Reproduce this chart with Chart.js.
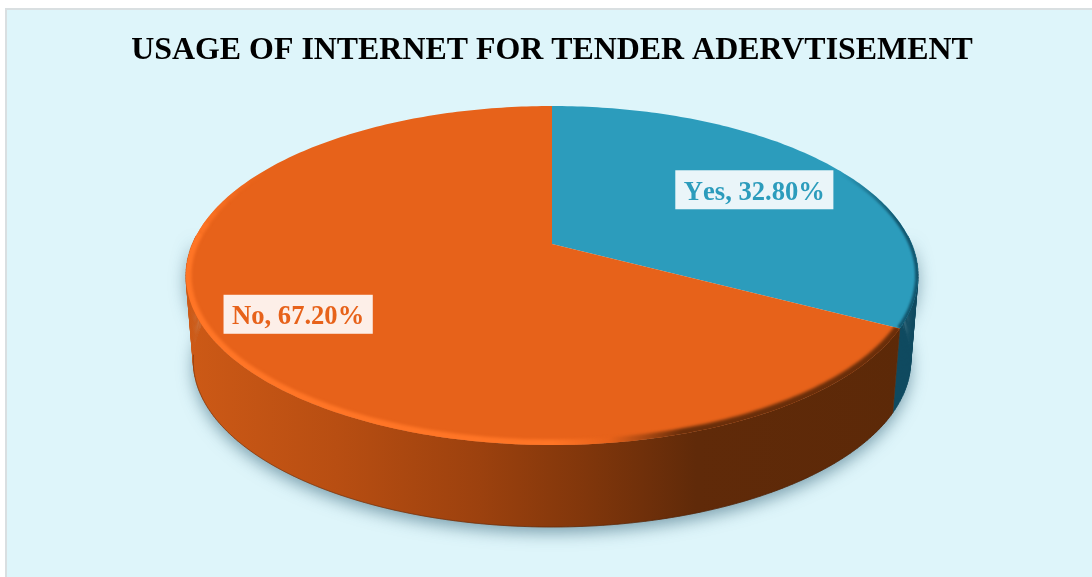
<!DOCTYPE html>
<html>
<head>
<meta charset="utf-8">
<title>Usage of internet for tender advertisement</title>
<script src="https://cdn.jsdelivr.net/npm/chart.js@4/dist/chart.umd.min.js"></script>
<style>
    body { margin: 0; background: #fff; }
    canvas { display: block; }
</style>
</head>
<body>
<canvas id="pie3d" width="1092" height="577"></canvas>
<script>
const chartTitle = "USAGE OF INTERNET FOR TENDER ADERVTISEMENT";
const categories = ["Yes", "No"];
const shares = [32.8, 67.2];

const topColors = ["#2c9cbc", "#e7621a"];

// how the flat pie is tipped over: stretch, perspective and wall depth
const tilt = { sx: 2.606, sy: 1.1855, k: 0.186, bottomScale: 0.98, depth: 85.4 };
const labelRadius = [0.70, 0.763];

// the side is only seen between these two angles, the rest is behind the top
const wallFrom = -0.05;
const wallTo = Math.PI + 0.05;

function project(arc, angle, r) {
    const u = r * Math.cos(angle);
    const v = r * Math.sin(angle);
    const w = 1 - tilt.k * v;
    return {
        x: arc.x + arc.outerRadius * tilt.sx * u / w,
        y: arc.y + arc.outerRadius * tilt.sy * v / w
    };
}

function projectBottom(arc, angle) {
    const p = project(arc, angle, 1);
    const { sy, k, bottomScale, depth } = tilt;
    const pivot = arc.y + arc.outerRadius * sy * k / (1 - k * k);
    return {
        x: arc.x + (p.x - arc.x) * bottomScale,
        y: pivot + (p.y - pivot) * bottomScale + depth
    };
}

function tracePoints(ctx, fn, from, to, move) {
    const steps = Math.max(2, Math.ceil(Math.abs(to - from) * 60));
    for (let i = 0; i <= steps; i++) {
        const p = fn(from + (to - from) * i / steps);
        if (i === 0 && move) ctx.moveTo(p.x, p.y);
        else ctx.lineTo(p.x, p.y);
    }
}

function xGradient(ctx, arc, stops) {
    const half = arc.outerRadius * tilt.sx;
    const g = ctx.createLinearGradient(arc.x - half, 0, arc.x + half, 0);
    stops.forEach(s => g.addColorStop(s[0], s[1]));
    return g;
}

// the wall has to be filled strip by strip, an outline would lose the part
// beyond the rims where the side folds out of view
function wallPath(ctx, arc, from, to) {
    const steps = Math.ceil(Math.abs(to - from) * 60);
    ctx.beginPath();
    for (let i = 0; i < steps; i++) {
        const a = from + (to - from) * i / steps;
        const b = from + (to - from) * (i + 1) / steps;
        const p1 = project(arc, a, 1);
        const p2 = project(arc, b, 1);
        const p3 = projectBottom(arc, b);
        const p4 = projectBottom(arc, a);
        ctx.moveTo(p1.x, p1.y);
        ctx.lineTo(p2.x, p2.y);
        ctx.lineTo(p3.x, p3.y);
        ctx.lineTo(p4.x, p4.y);
        ctx.closePath();
    }
}

function drawShadow(ctx, arc) {
    ctx.save();
    ctx.shadowColor = "rgba(60, 105, 125, 0.6)";
    ctx.shadowBlur = 16;
    ctx.shadowOffsetY = 6;
    ctx.fillStyle = "#7fa6b4";
    wallPath(ctx, arc, wallFrom, wallTo);
    ctx.fill();
    ctx.restore();
}

function drawWall(ctx, arc, from, to, fill) {
    ctx.fillStyle = fill;
    ctx.strokeStyle = fill;
    ctx.lineWidth = 0.6;
    wallPath(ctx, arc, from, to);
    ctx.fill();
    ctx.stroke();
}

function topPath(ctx, arc) {
    ctx.beginPath();
    const c = project(arc, 0, 0);
    ctx.moveTo(c.x, c.y);
    tracePoints(ctx, a => project(arc, a, 1), arc.startAngle, arc.endAngle, false);
    ctx.closePath();
}

function strokeRim(ctx, arc, from, to, style, width, blur) {
    ctx.save();
    ctx.filter = `blur(${blur}px)`;
    ctx.strokeStyle = style;
    ctx.lineWidth = width;
    ctx.beginPath();
    tracePoints(ctx, a => project(arc, a, 1), from, to, true);
    ctx.stroke();
    ctx.restore();
}

const pie3d = {
    id: "pie3d",
    beforeDraw(chart) {
        const { ctx, width, height } = chart;
        ctx.save();
        ctx.fillStyle = "#d9dfe1";
        ctx.fillRect(5, 8, width, height);
        ctx.fillStyle = "#def5fa";
        ctx.fillRect(7, 10, width, height);
        ctx.restore();
    },
    beforeDatasetDraw(chart) {
        const { ctx } = chart;
        const [yes, no] = chart.getDatasetMeta(0).data;

        drawShadow(ctx, no);
        drawWall(ctx, yes, wallFrom, yes.endAngle, "#0f4a60");
        drawWall(ctx, no, no.startAngle, wallTo, xGradient(ctx, no, [
            [0, "#cc5916"], [0.2, "#b84e12"], [0.4, "#9c410e"],
            [0.55, "#80360b"], [0.7, "#602a09"], [1, "#5c2908"]
        ]));

        // thin dark line where the wall meets the ground
        ctx.save();
        ctx.strokeStyle = "rgba(70, 30, 8, 0.4)";
        ctx.lineWidth = 1;
        ctx.beginPath();
        tracePoints(ctx, a => projectBottom(no, a), no.startAngle, Math.PI - 0.15, true);
        ctx.stroke();
        ctx.restore();

        [yes, no].forEach((arc, i) => {
            ctx.fillStyle = topColors[i];
            topPath(ctx, arc);
            ctx.fill();
        });

        // bevel along the edge of the top face, kept inside each slice
        ctx.save();
        topPath(ctx, no);
        ctx.clip();
        const bevel = xGradient(ctx, no, [
            [0, "#ff7526"], [0.5, "#ff7526"], [0.58, "#e7621a"],
            [0.68, "#6a2e0a"], [1, "#6a2e0a"]
        ]);
        strokeRim(ctx, no, no.startAngle, Math.PI + 0.08, bevel, 11, 1.6);
        // the bright edge dies away towards the back of the pie
        for (let i = 0; i < 6; i++) {
            ctx.globalAlpha = 0.85 - i * 0.14;
            strokeRim(ctx, no, Math.PI + 0.08 + i * 0.07, Math.PI + 0.15 + i * 0.07, bevel, 11 - i, 1.6);
        }
        ctx.restore();

        ctx.save();
        topPath(ctx, yes);
        ctx.clip();
        strokeRim(ctx, yes, yes.startAngle + 0.9, yes.endAngle, xGradient(ctx, yes, [
            [0, "rgba(18,86,110,0)"], [0.9, "rgba(18,86,110,0)"], [0.98, "#12566e"], [1, "#12566e"]
        ]), 6, 1.3);
        ctx.restore();

        return false;
    },
    afterDatasetsDraw(chart) {
        const { ctx } = chart;
        ctx.save();
        ctx.font = "bold 26.6px 'Liberation Serif'";
        ctx.fontKerning = "none";
        ctx.textAlign = "center";
        ctx.textBaseline = "middle";
        chart.getDatasetMeta(0).data.forEach((arc, i) => {
            const text = `${categories[i]}, ${shares[i].toFixed(2)}%`;
            const mid = (arc.startAngle + arc.endAngle) / 2;
            const p = project(arc, mid, labelRadius[i]);
            const w = ctx.measureText(text).width + 17;
            ctx.fillStyle = "rgba(255, 255, 255, 0.9)";
            ctx.fillRect(p.x - w / 2, p.y - 18.5, w, 39);
            ctx.fillStyle = topColors[i];
            ctx.fillText(text, p.x, p.y + 4);
        });
        ctx.restore();
    }
};

new Chart(document.getElementById("pie3d"), {
    type: "pie",
    data: {
        labels: categories,
        datasets: [{
            data: shares,
            backgroundColor: topColors,
            borderWidth: 0
        }]
    },
    options: {
        responsive: false,
        animation: false,
        layout: { padding: { left: 12, right: 0, top: 0, bottom: 195 } },
        plugins: {
            legend: { display: false },
            tooltip: { enabled: false },
            title: {
                display: true,
                text: chartTitle,
                color: "#000",
                font: { family: "'Liberation Serif'", size: 31.9, weight: "bold", lineHeight: 1.2 },
                padding: { top: 32, bottom: 35.7 }
            }
        }
    },
    plugins: [pie3d]
});
</script>
</body>
</html>
